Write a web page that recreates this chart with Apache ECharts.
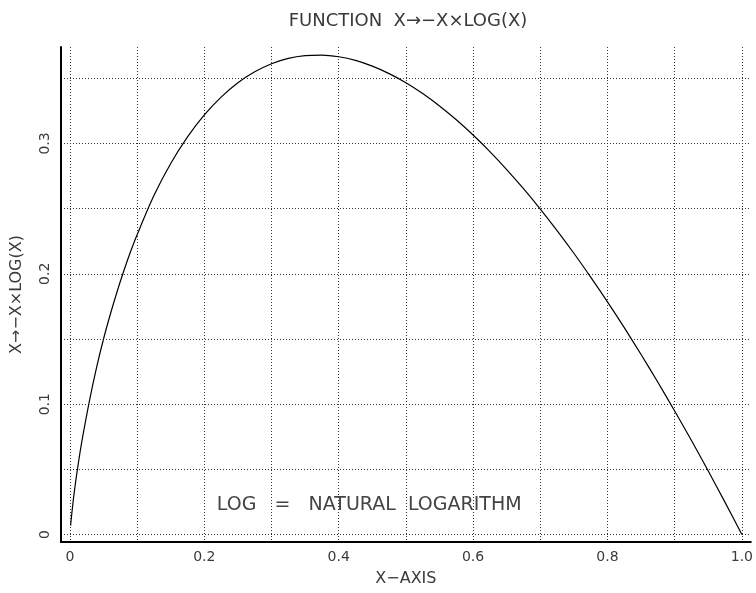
<!DOCTYPE html>
<html><head><meta charset="utf-8">
<script src="https://cdn.jsdelivr.net/npm/echarts@6/dist/echarts.min.js"></script>
<style>html,body{margin:0;padding:0;background:#fff}#c{width:756px;height:593px}</style>
</head><body><div id="c"></div>
<script>
const xValues = [0.001,0.002,0.005,0.0075,0.01,0.015,0.02,0.03,0.04,0.05,0.06,0.07,0.08,0.09,0.1,0.125,0.15,0.175,0.2,0.225,0.25,0.275,0.3,0.325,0.35,0.375,0.4,0.425,0.45,0.475,0.5,0.525,0.55,0.575,0.6,0.625,0.65,0.675,0.7,0.725,0.75,0.775,0.8,0.825,0.85,0.875,0.9,0.925,0.95,0.975,1.0];
const yValues = [0.0069,0.0124,0.0265,0.0367,0.046,0.063,0.078,0.105,0.129,0.150,0.1688,0.1861,0.202,0.2167,0.230,0.260,0.2846,0.305,0.3219,0.3356,0.3466,0.355,0.3612,0.3653,0.3674,0.3678,0.3665,0.3637,0.3593,0.3536,0.3466,0.3383,0.3288,0.3182,0.3065,0.2938,0.280,0.2653,0.2497,0.2332,0.2158,0.1975,0.1785,0.1587,0.1381,0.1168,0.0948,0.0721,0.0487,0.0247,0.0];
const xGridValues = [0,0.1,0.2,0.3,0.4,0.5,0.6,0.7,0.8,0.9,1.0];
const xTickLabels = [0,0.2,0.4,0.6,0.8,1.0];
const yGridValues = [0,0.05,0.1,0.15,0.2,0.25,0.3,0.35];
const yTickLabels = [0,0.1,0.2,0.3];
const titleText = 'FUNCTION  X\u2192\u2212X\u00d7LOG(X)';
const xName = 'X\u2212AXIS';
const yName = 'X\u2192\u2212X\u00d7LOG(X)';
const noteText = 'LOG   =   NATURAL  LOGARITHM';
const notePos = [0.2186, 0.0225];

const FONT = 'DejaVu Sans';
const TXT = '#3a3a3a';
const chart = echarts.init(document.getElementById('c'), null, {renderer:'canvas'});
chart.setOption({
  animation:false,
  backgroundColor:'#fff',
  title:{text:titleText,left:403,top:7,textAlign:'center',
    textStyle:{fontFamily:FONT,fontSize:18,fontWeight:'normal',color:TXT}},
  grid:{left:61,right:0,top:47,bottom:51,containLabel:false},
  xAxis:{type:'value',min:-0.0133,max:1.0133,
    name:xName,nameLocation:'middle',nameGap:29,
    nameTextStyle:{fontFamily:FONT,fontSize:16,color:TXT},
    axisLine:{show:true,onZero:false,lineStyle:{color:'#000',width:2}},
    axisTick:{show:false,customValues:xGridValues},
    axisLabel:{customValues:xTickLabels,margin:8,fontFamily:FONT,fontSize:14,color:TXT,
      formatter:v=>v===1?'1.0':String(v)},
    splitLine:{show:true,lineStyle:{type:[1,2],color:'#333',width:1}}},
  yAxis:{type:'value',min:-0.0057,max:0.374,
    name:yName,nameLocation:'middle',nameGap:36,nameRotate:90,
    nameTextStyle:{fontFamily:FONT,fontSize:16,color:TXT},
    axisLine:{show:true,onZero:false,lineStyle:{color:'#000',width:2}},
    axisTick:{show:false,customValues:yGridValues},
    axisLabel:{customValues:yTickLabels,rotate:90,margin:9,fontFamily:FONT,fontSize:14,color:TXT},
    splitLine:{show:true,lineStyle:{type:[1,2],color:'#333',width:1}}},
  series:[{type:'line',data:xValues.map((x,i)=>[x,yValues[i]]),smooth:0.3,showSymbol:false,
    lineStyle:{color:'#000',width:1.2},
    markPoint:{symbol:'circle',symbolSize:0,silent:true,
      data:[{coord:notePos,label:{show:true,position:'inside',align:'left',verticalAlign:'middle',
        formatter:noteText,fontFamily:FONT,fontSize:19,color:'#444'}}]}}]
});
</script></body></html>
